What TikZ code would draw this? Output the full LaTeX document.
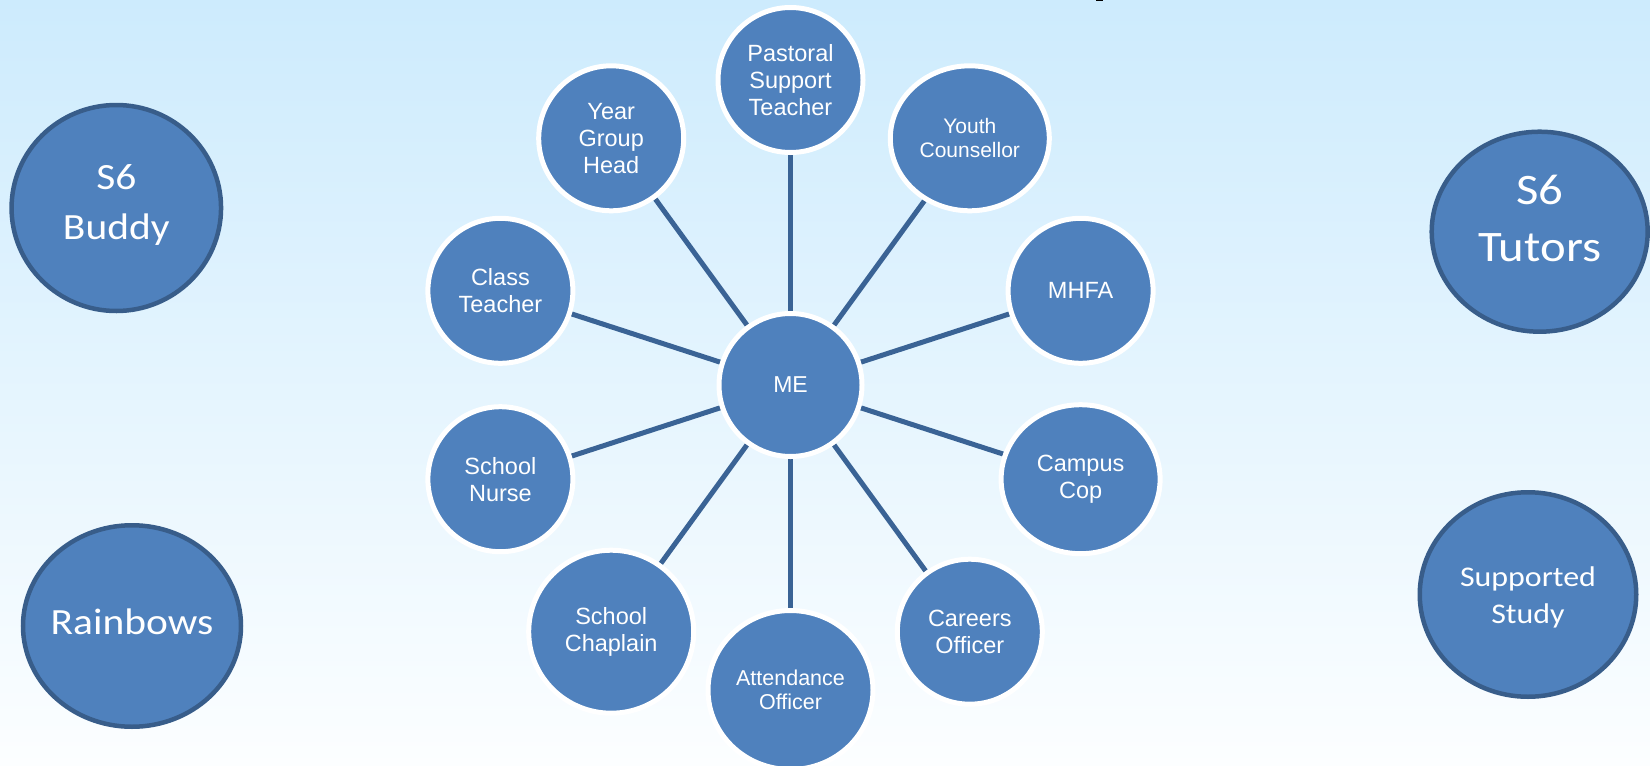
\documentclass[tikz,border=0pt]{standalone}
\usepackage{fontspec}
\setmainfont{Liberation Sans}
\newfontfamily\calfont[FakeStretch=1.12]{Carlito}
\usetikzlibrary{shapes.geometric}
\pgfdeclarelayer{bgl}
\pgfdeclarelayer{lines}
\pgfsetlayers{bgl,lines,main}
\definecolor{fillblue}{HTML}{4F81BD}
\definecolor{darkrim}{HTML}{385D8A}
\definecolor{spokec}{HTML}{3A6395}
\definecolor{bgtop}{HTML}{CDEBFD}
\definecolor{bgbot}{HTML}{FCFEFF}
\newcommand{\shiftlines}[2]{\raisebox{#1}[\height][\depth]{\begin{tabular}{@{}c@{}}#2\end{tabular}}}
\tikzset{
  innerc/.style={ellipse, fill=fillblue, draw=white, line width=5pt, inner sep=0pt,
    text=white, align=center, font=\fontsize{23.5}{27}\selectfont},
  outerc/.style={ellipse, fill=fillblue, draw=darkrim, line width=4.5pt, inner sep=-20pt,
    text=white, align=center},
  spoke/.style={draw=spokec, line width=5pt},
  sz/.style 2 args={minimum width=#1pt, minimum height=#2pt},
}
\begin{document}
\begin{tikzpicture}[x=1pt,y=-1pt]
\useasboundingbox (0,0) rectangle (1650,766);
\begin{pgfonlayer}{bgl}
  \shade[top color=bgtop, bottom color=bgbot] (0,0) rectangle (1650,766);
  \fill[black] (1096,0) rectangle (1103,1.3);
\end{pgfonlayer}

% centre
\node[innerc, sz={143}{143}, font=\fontsize{23}{26}\selectfont] (me) at (790.5,385) {ME};

% ring
\node[innerc, sz={145}{145}] (past) at (790.5,80) {Pastoral\\Support\\Teacher};
\node[innerc, sz={159}{145}, font=\fontsize{21}{24}\selectfont] (youth) at (969.8,138.3) {Youth\\Counsellor};
\node[innerc, sz={145}{145}] (mhfa) at (1080.6,290.8) {MHFA};
\node[innerc, sz={159}{149}] (cop) at (1080.6,479.2) {Campus\\Cop};
\node[innerc, sz={145}{145}] (career) at (969.8,631.7) {Careers\\Officer};
\node[innerc, sz={165}{159}, font=\fontsize{21.5}{24.5}\selectfont] (attend) at (790.5,690) {Attendance\\Officer};
\node[innerc, sz={165}{163}] (chap) at (611.2,631.7) {School\\Chaplain};
\node[innerc, sz={145}{145}] (nurse) at (500.4,479.2) {School\\Nurse};
\node[innerc, sz={145}{145}] (class) at (500.4,290.8) {Class\\Teacher};
\node[innerc, sz={145}{145}] (ygh) at (611.2,138.3) {Year\\Group\\Head};

% outer
\node[outerc, sz={209.5}{206}, font=\calfont\fontsize{37}{50}\selectfont] (buddy) at (116.3,208) {\shiftlines{3.5pt}{S6\\Buddy}};
\node[outerc, sz={218}{201.5}, font=\calfont\fontsize{37}{44}\selectfont] (rain) at (132,626) {\raisebox{4.5pt}[\height][\depth]{Rainbows}};
\node[outerc, sz={216}{200}, font=\calfont\fontsize{43.5}{57}\selectfont] (tutors) at (1539.7,231.7) {\shiftlines{10.5pt}{S6\\Tutors}};
\node[outerc, sz={216.5}{204.5}, font=\calfont\fontsize{28.5}{37}\selectfont] (study) at (1528,594.5) {\shiftlines{-3pt}{Supported\\Study}};

\begin{pgfonlayer}{lines}
  \foreach \n in {past,youth,mhfa,cop,career,attend,chap,nurse,class,ygh}
    \draw[spoke] (me) -- (\n);
\end{pgfonlayer}
\end{tikzpicture}
\end{document}
